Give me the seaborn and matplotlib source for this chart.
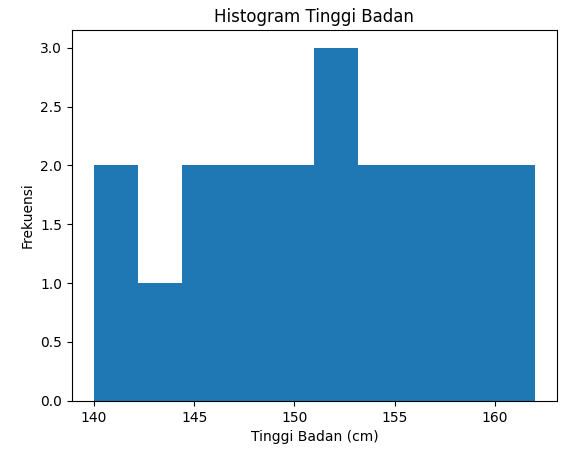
import matplotlib
matplotlib.use("Agg")
import matplotlib.pyplot as plt
import seaborn as sns

tinggi_badan = [140, 141, 143, 145, 146, 147, 148, 149, 150, 151.5, 152, 153,
                154, 155, 156, 157, 158, 159, 160, 162]

fig, ax = plt.subplots(figsize=(5.67, 4.55), dpi=100)
fig.subplots_adjust(left=0.127, right=0.982, top=0.934, bottom=0.119)
sns.histplot(x=tinggi_badan, bins=10, color="#1f77b4", alpha=1, linewidth=0, ax=ax)
ax.set_title("Histogram Tinggi Badan")
ax.set_xlabel("Tinggi Badan (cm)")
ax.set_ylabel("Frekuensi")
ax.set_yticks([0, 0.5, 1, 1.5, 2, 2.5, 3])
ax.set_yticklabels(["0.0", "0.5", "1.0", "1.5", "2.0", "2.5", "3.0"])
fig.savefig("out.png", dpi=100)
